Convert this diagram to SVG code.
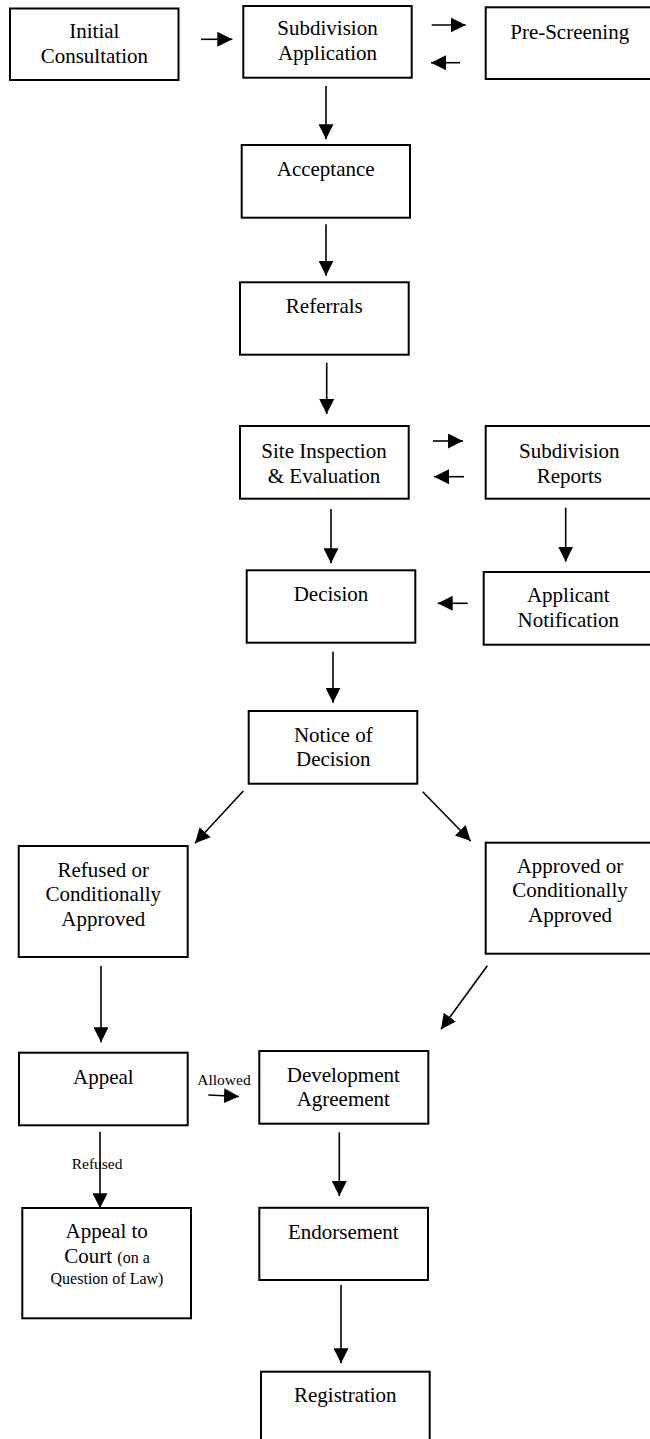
<svg xmlns="http://www.w3.org/2000/svg" width="650" height="1439" viewBox="0 0 650 1439">
<style>
.box{fill:#fff;stroke:#000;stroke-width:2}
.t{font-family:"Liberation Serif","Times New Roman",serif;font-size:21px;fill:#000;text-anchor:middle}
.s{font-family:"Liberation Serif","Times New Roman",serif;font-size:15.5px;fill:#000}
.sm{font-size:16px}
.c{stroke:#000;stroke-width:1.6;fill:none;marker-end:url(#ah)}
</style>
<defs>
<marker id="ah" markerUnits="userSpaceOnUse" markerWidth="16" markerHeight="15" refX="15" refY="7.5" orient="auto">
<path d="M0,0 L15,7.5 L0,15 z" fill="#000"/>
</marker>
</defs>
<rect width="650" height="1439" fill="#fff"/>
<g id="initial"><rect class="box" x="10" y="8.5" width="168.5" height="71.5"/><text class="t" x="94.3" y="37.7">Initial</text><text class="t" x="94.3" y="63.3">Consultation</text></g>
<g id="subapp"><rect class="box" x="243.3" y="6" width="168.4" height="71.7"/><text class="t" x="327.5" y="35">Subdivision</text><text class="t" x="327.5" y="60">Application</text></g>
<g id="prescreen"><rect class="box" x="485.7" y="7.3" width="170" height="71.7"/><text class="t" x="569.7" y="39.3">Pre-Screening</text></g>
<g id="acceptance"><rect class="box" x="241.7" y="145" width="168.3" height="72.7"/><text class="t" x="325.7" y="175.7">Acceptance</text></g>
<g id="referrals"><rect class="box" x="240" y="282.3" width="168.7" height="72.4"/><text class="t" x="324.3" y="312.7">Referrals</text></g>
<g id="site"><rect class="box" x="240" y="426" width="168.7" height="72.7"/><text class="t" x="324" y="457.7">Site Inspection</text><text class="t" x="324" y="482.7">&amp; Evaluation</text></g>
<g id="reports"><rect class="box" x="485.7" y="426" width="170" height="72.7"/><text class="t" x="569.3" y="457.7">Subdivision</text><text class="t" x="569.3" y="482.7">Reports</text></g>
<g id="decision"><rect class="box" x="246.7" y="570.3" width="168.6" height="72.4"/><text class="t" x="331" y="600.7">Decision</text></g>
<g id="applicant"><rect class="box" x="483.7" y="572" width="172" height="72.7"/><text class="t" x="568.3" y="602">Applicant</text><text class="t" x="568.3" y="627.3">Notification</text></g>
<g id="notice"><rect class="box" x="248.7" y="711" width="168.6" height="72.7"/><text class="t" x="333.3" y="741.7">Notice of</text><text class="t" x="333.3" y="766">Decision</text></g>
<g id="refused"><rect class="box" x="18.7" y="846" width="169" height="111"/><text class="t" x="103.3" y="877.3">Refused or</text><text class="t" x="103.3" y="901">Conditionally</text><text class="t" x="103.3" y="925.7">Approved</text></g>
<g id="approved"><rect class="box" x="485.7" y="842.7" width="170" height="111"/><text class="t" x="570" y="872.7">Approved or</text><text class="t" x="570" y="897.3">Conditionally</text><text class="t" x="570" y="921.7">Approved</text></g>
<g id="appeal"><rect class="box" x="19" y="1052.7" width="168.7" height="72.6"/><text class="t" x="103.3" y="1084">Appeal</text></g>
<g id="devagreement"><rect class="box" x="259.3" y="1051" width="169" height="72.7"/><text class="t" x="343.3" y="1081.7">Development</text><text class="t" x="343.3" y="1106">Agreement</text></g>
<g id="court"><rect class="box" x="22.3" y="1208" width="168.7" height="110.3"/><text class="t" x="106.7" y="1238.3">Appeal to</text><text class="t" x="107" y="1263.3">Court <tspan class="sm">(on a</tspan></text><text class="t sm" x="107" y="1284">Question of Law)</text></g>
<g id="endorsement"><rect class="box" x="259.3" y="1207.8" width="168.7" height="72.2"/><text class="t" x="343.3" y="1239">Endorsement</text></g>
<g id="registration"><rect class="box" x="261" y="1371.7" width="168.7" height="80"/><text class="t" x="345.3" y="1401.7">Registration</text></g>
<g id="connectors">
<line class="c" x1="201" y1="39.3" x2="232.3" y2="39.3"/>
<line class="c" x1="431.7" y1="25" x2="465.7" y2="25"/>
<line class="c" x1="460" y1="62.7" x2="431" y2="62.7"/>
<line class="c" x1="326" y1="86" x2="326" y2="139.3"/>
<line class="c" x1="326" y1="224.3" x2="326" y2="275.7"/>
<line class="c" x1="326.7" y1="362.7" x2="326.7" y2="414"/>
<line class="c" x1="433" y1="441" x2="463" y2="441"/>
<line class="c" x1="464" y1="476.7" x2="434" y2="476.7"/>
<line class="c" x1="331" y1="509" x2="331" y2="563.3"/>
<line class="c" x1="565.7" y1="507.7" x2="565.7" y2="561.7"/>
<line class="c" x1="467.7" y1="603.3" x2="437.7" y2="603.3"/>
<line class="c" x1="333" y1="651.7" x2="333" y2="702.7"/>
<line class="c" x1="243.3" y1="791" x2="195" y2="843.3"/>
<line class="c" x1="422.7" y1="791.7" x2="470.7" y2="841"/>
<line class="c" x1="101" y1="966" x2="101" y2="1042.3"/>
<line class="c" x1="487.3" y1="965.7" x2="441" y2="1029.3"/>
<line class="c" x1="208.3" y1="1095" x2="239" y2="1096.5"/>
<line class="c" x1="100" y1="1131.7" x2="100" y2="1208.3"/>
<line class="c" x1="339.3" y1="1132.3" x2="339.3" y2="1196"/>
<line class="c" x1="341" y1="1285" x2="341" y2="1363.3"/>
<text class="s" x="197.3" y="1085">Allowed</text>
<text class="s" x="71.7" y="1169">Refused</text>
</g>
</svg>
